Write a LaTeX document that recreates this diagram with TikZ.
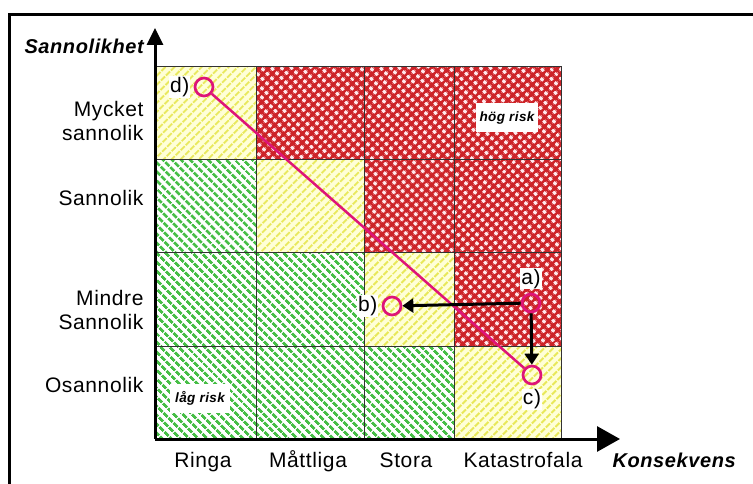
\documentclass[tikz,border=0pt]{standalone}
\usepackage{fontspec}
\setmainfont{Liberation Sans}[LetterSpace=3]
\usetikzlibrary{arrows.meta,patterns.meta,positioning}

\definecolor{riskred}{RGB}{205,35,40}
\definecolor{riskgreen}{RGB}{70,190,70}
\definecolor{riskyellow}{RGB}{232,232,90}
\definecolor{paleyellow}{RGB}{255,255,215}
\definecolor{riskpink}{RGB}{222,20,120}
\definecolor{holepink}{RGB}{255,232,236}
\definecolor{gridgray}{RGB}{50,50,50}

\tikzset{
  low/.style={pattern={Lines[angle=-45,distance=6.4pt,line width=3pt]},pattern color=riskgreen},
  mid/.style={preaction={fill=paleyellow},pattern={Lines[angle=45,distance=6.4pt,line width=2.4pt]},pattern color=riskyellow},
  high/.style={preaction={fill=riskred},pattern={Dots[angle=45,distance=6.4pt,radius=2.3pt]},pattern color=holepink},
  cellline/.style={draw=gridgray,line width=1pt},
  axis/.style={line width=3pt},
  pt/.style={circle,draw=riskpink,line width=2.7pt,minimum size=18pt,inner sep=0pt},
  tag/.style={fill=white,inner sep=1pt,font=\fontsize{21}{24}\selectfont},
  lab/.style={font=\fontsize{21}{24}\selectfont},
  axlab/.style={font=\fontsize{20}{24}\selectfont\bfseries\itshape},
  riskbox/.style={fill=white,minimum width=60pt,minimum height=29pt,font=\fontsize{13.5}{15}\selectfont\bfseries\itshape},
  bigarrow/.style={line width=3pt,-{Triangle[length=11pt,width=14pt]}},
}

\begin{document}
\begin{tikzpicture}[x=1pt,y=-1pt]
  \useasboundingbox (0,0) rectangle (753,484);
  \fill[white] (0,0) rectangle (753,484);
  % frame
  \draw[line width=3pt] (9.5,500) |- (770,14.5);

  % matrix cells
  \foreach \ya/\yb/\sa/\sb/\sc/\sd in {67/160/mid/high/high/high,160/252/low/mid/high/high,
      252/346/low/low/mid/high,346/439/low/low/low/mid}{
    \path[\sa] (155,\ya) rectangle (256,\yb);
    \path[\sb] (256,\ya) rectangle (364,\yb);
    \path[\sc] (364,\ya) rectangle (454,\yb);
    \path[\sd] (454,\ya) rectangle (561,\yb);
    \draw[cellline] (155,\ya) rectangle (256,\yb) (256,\ya) rectangle (364,\yb)
      (364,\ya) rectangle (454,\yb) (454,\ya) rectangle (561,\yb);
  }

  \node[riskbox] (hog) at (507,118) {hög risk};
  \node[riskbox] (lag) at (200,398) {låg risk};

  % axes
  \coordinate (orig) at (155,439);
  \coordinate (ytip) at (155,28);
  \coordinate (xtip) at (620,439);
  \draw[axis,-{Triangle[length=17pt,width=16pt]}] (orig) -- (ytip);
  \draw[axis,-{Triangle[length=23pt,width=25pt]}] (orig) -- (xtip);

  \node[axlab,anchor=base west] (ylab) at (21,54) {Sannolikhet};
  \node[axlab,anchor=base west] (xlab) at (609,467) {Konsekvens};

  % row labels
  \node[lab,anchor=east,align=right] (r1) at (147,121) {Mycket\\sannolik};
  \node[lab,anchor=east] (r2) at (147,198) {Sannolik};
  \node[lab,anchor=east,align=right] (r3) at (147,310) {Mindre\\Sannolik};
  \node[lab,anchor=east] (r4) at (147,385) {Osannolik};

  % column labels
  \node[lab,anchor=base] (c1) at (203,467) {Ringa};
  \node[lab,anchor=base] (c2) at (308,467) {Måttliga};
  \node[lab,anchor=base] (c3) at (406,467) {Stora};
  \node[lab,anchor=base] (c4) at (523,467) {Katastrofala};

  % scenarios
  \node[pt] (pd) at (204,87) {};
  \node[pt] (pa) at (531,303) {};
  \node[pt] (pb) at (392,306) {};
  \node[pt] (pc) at (532,375) {};
  \draw[riskpink,line width=2.5pt] (pd) -- (pc);
  \draw[bigarrow] (pa) -- (pb);
  \draw[bigarrow] (pa) -- (pc);

  \node[tag,left=3pt of pd] (td) {d)};
  \node[tag,left=3pt of pb] (tb) {b)};
  \node[tag,above=3pt of pa] (ta) {a)};
  \node[tag,below=3pt of pc] (tc) {c)};
\end{tikzpicture}
\end{document}
